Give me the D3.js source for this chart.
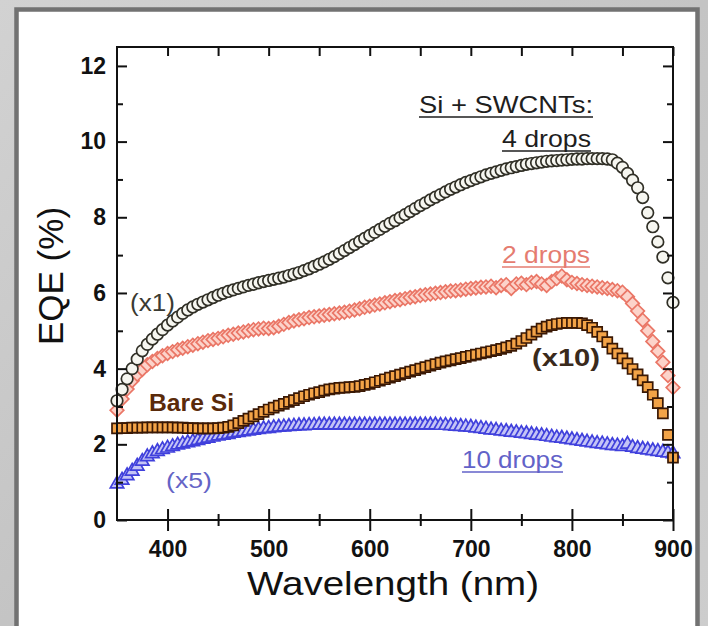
<!DOCTYPE html>
<html>
<head>
<meta charset="utf-8">
<script src="https://cdn.jsdelivr.net/npm/d3@7"></script>
<style>
  html, body { margin: 0; padding: 0; background: #c8c8c8; }
  svg { display: block; }
  text { font-family: "Liberation Sans", Arial, sans-serif; }
</style>
</head>
<body>
<div id="chart"></div>
<script>
// EQE spectra: Si + SWCNTs (2, 4, 10 drops) and bare Si
const width = 708;
const height = 626;

// sampling grid (nm)
const wavelengths = [
  350, 355, 360, 365, 370, 375, 380, 385, 390, 395,
  400, 405, 410, 415, 420, 425, 430, 435, 440, 445,
  450, 455, 460, 465, 470, 475, 480, 485, 490, 495,
  500, 505, 510, 515, 520, 525, 530, 535, 540, 545,
  550, 555, 560, 565, 570, 575, 580, 585, 590, 595,
  600, 605, 610, 615, 620, 625, 630, 635, 640, 645,
  650, 655, 660, 665, 670, 675, 680, 685, 690, 695,
  700, 705, 710, 715, 720, 725, 730, 735, 740, 745,
  750, 755, 760, 765, 770, 775, 780, 785, 790, 795,
  800, 805, 810, 815, 820, 825, 830, 835, 840, 845,
  850, 855, 860, 865, 870, 875, 880, 885, 890, 895,
  900
];

// 4 drops (x1), EQE %
const drops4 = [
  3.15, 3.45, 3.73, 4.00, 4.25, 4.47, 4.64, 4.78, 4.91, 5.03,
  5.15, 5.26, 5.36, 5.46, 5.55, 5.63, 5.70, 5.76, 5.82, 5.88,
  5.94, 5.99, 6.04, 6.08, 6.12, 6.16, 6.20, 6.23, 6.27, 6.30,
  6.33, 6.36, 6.39, 6.42, 6.46, 6.50, 6.54, 6.59, 6.64, 6.70,
  6.76, 6.82, 6.89, 6.96, 7.04, 7.12, 7.20, 7.28, 7.36, 7.44,
  7.52, 7.60, 7.68, 7.76, 7.84, 7.91, 7.99, 8.07, 8.15, 8.23,
  8.31, 8.38, 8.46, 8.53, 8.60, 8.67, 8.74, 8.80, 8.86, 8.92,
  8.97, 9.02, 9.07, 9.12, 9.16, 9.20, 9.24, 9.28, 9.31, 9.34,
  9.37, 9.40, 9.42, 9.44, 9.46, 9.48, 9.49, 9.50, 9.51, 9.52,
  9.53, 9.54, 9.54, 9.55, 9.55, 9.55, 9.55, 9.54, 9.52, 9.43,
  9.32, 9.16, 8.98, 8.78, 8.52, 8.12, 7.75, 7.35, 6.95, 6.40,
  5.75
];

// 2 drops
const drops2 = [
  2.90, 3.20, 3.46, 3.68, 3.85, 3.98, 4.10, 4.19, 4.27, 4.34,
  4.40, 4.45, 4.50, 4.54, 4.58, 4.62, 4.66, 4.70, 4.74, 4.77,
  4.80, 4.84, 4.88, 4.91, 4.94, 4.97, 5.00, 5.03, 5.05, 5.07,
  5.06, 5.08, 5.12, 5.17, 5.22, 5.26, 5.29, 5.32, 5.35, 5.37,
  5.39, 5.41, 5.43, 5.45, 5.47, 5.49, 5.52, 5.55, 5.58, 5.62,
  5.65, 5.68, 5.71, 5.74, 5.77, 5.80, 5.82, 5.85, 5.88, 5.90,
  5.93, 5.95, 5.97, 5.99, 6.01, 6.03, 6.05, 6.06, 6.08, 6.10,
  6.12, 6.13, 6.15, 6.16, 6.18, 6.14, 6.20, 6.22, 6.12, 6.24,
  6.26, 6.22, 6.28, 6.30, 6.24, 6.20, 6.30, 6.38, 6.45, 6.35,
  6.28, 6.25, 6.22, 6.20, 6.18, 6.16, 6.14, 6.12, 6.09, 6.06,
  6.02, 5.90, 5.72, 5.52, 5.28, 5.00, 4.72, 4.46, 4.17, 3.82,
  3.50
];

// bare Si (x10)
const bareSi = [
  2.42, 2.43, 2.43, 2.44, 2.44, 2.44, 2.45, 2.45, 2.45, 2.45,
  2.45, 2.45, 2.44, 2.44, 2.43, 2.43, 2.42, 2.42, 2.42, 2.42,
  2.43, 2.44, 2.46, 2.50, 2.56, 2.62, 2.68, 2.74, 2.80, 2.86,
  2.92, 2.97, 3.02, 3.07, 3.12, 3.17, 3.22, 3.27, 3.31, 3.35,
  3.38, 3.42, 3.45, 3.47, 3.49, 3.50, 3.51, 3.52, 3.54, 3.57,
  3.60, 3.64, 3.68, 3.72, 3.76, 3.80, 3.84, 3.88, 3.92, 3.96,
  4.00, 4.04, 4.08, 4.12, 4.16, 4.19, 4.22, 4.25, 4.28, 4.31,
  4.34, 4.37, 4.40, 4.43, 4.46, 4.49, 4.52, 4.56, 4.60, 4.66,
  4.73, 4.81, 4.90, 4.98, 5.06, 5.11, 5.15, 5.18, 5.20, 5.21,
  5.21, 5.21, 5.20, 5.15, 5.08, 4.97, 4.85, 4.70, 4.53, 4.40,
  4.27, 4.14, 3.99, 3.85, 3.69, 3.51, 3.31, 3.09, 2.82, 2.25,
  1.65
];

// 10 drops (x5)
const drops10 = [
  0.95, 1.05, 1.17, 1.29, 1.42, 1.55, 1.67, 1.75, 1.81, 1.86,
  1.90, 1.94, 1.98, 2.01, 2.04, 2.07, 2.10, 2.13, 2.16, 2.19,
  2.22, 2.24, 2.26, 2.29, 2.31, 2.33, 2.35, 2.37, 2.39, 2.41,
  2.42, 2.44, 2.45, 2.46, 2.47, 2.48, 2.49, 2.49, 2.50, 2.50,
  2.51, 2.51, 2.51, 2.51, 2.51, 2.51, 2.51, 2.51, 2.51, 2.51,
  2.51, 2.51, 2.51, 2.51, 2.51, 2.51, 2.51, 2.51, 2.51, 2.51,
  2.51, 2.51, 2.51, 2.51, 2.50, 2.50, 2.49, 2.48, 2.47, 2.46,
  2.45, 2.43, 2.42, 2.40, 2.38, 2.37, 2.35, 2.34, 2.32, 2.31,
  2.29, 2.28, 2.26, 2.24, 2.23, 2.21, 2.19, 2.17, 2.16, 2.14,
  2.12, 2.10, 2.08, 2.06, 2.04, 2.02, 2.01, 1.99, 1.97, 1.96,
  1.94, 2.00, 1.92, 1.89, 1.87, 1.85, 1.83, 1.81, 1.79, 1.77,
  1.75
];

const xMajor = [400, 500, 600, 700, 800, 900];
const xMinor = [450, 550, 650, 750, 850];
const yMajor = [0, 2, 4, 6, 8, 10, 12];
const yMinor = [1, 3, 5, 7, 9, 11];

const svg = d3.select("#chart")
  .append("svg")
  .attr("width", width)
  .attr("height", height);

// grey photo backdrop + white panel
const grad = svg.append("defs").append("linearGradient")
  .attr("id", "bg").attr("x1", 0).attr("y1", 0).attr("x2", 1).attr("y2", 1);
grad.append("stop").attr("offset", "0%").attr("stop-color", "#d2d2d2");
grad.append("stop").attr("offset", "50%").attr("stop-color", "#c4c4c4");
grad.append("stop").attr("offset", "100%").attr("stop-color", "#cdcdcd");
svg.append("rect").attr("width", width).attr("height", height).attr("fill", "url(#bg)");
svg.append("rect")
  .attr("x", 16.5).attr("y", 9.5)
  .attr("width", 681).attr("height", 660)
  .attr("fill", "#fff")
  .attr("stroke", "#727272")
  .attr("stroke-width", 4.5);

const x = d3.scaleLinear().domain([350, 900]).range([117, 673]);
const y = d3.scaleLinear().domain([0, 12.5]).range([520, 47]);

// markers: each series drawn left-to-right so the opaque fills give the hatched look
const series = [
  { values: drops10, type: d3.symbolTriangle, size: 78, rot: 0, stroke: "#4040dc", fill: "#c4c4f6" },
  { values: drops2, type: d3.symbolSquare, size: 92, rot: 45, stroke: "#ea7666", fill: "#fcd3ca" },
  { values: bareSi, type: d3.symbolSquare, size: 100, rot: 0, stroke: "#3a1804", fill: "#f3a347" },
  { values: drops4, type: d3.symbolCircle, size: 105, rot: 0, stroke: "#302f26", fill: "#f6f6f0" }
];

series.forEach(s => {
  const sym = d3.symbol().type(s.type).size(s.size);
  svg.append("g")
    .selectAll("path")
    .data(wavelengths.map((w, i) => [w, s.values[i]]))
    .join("path")
    .attr("transform", d => `translate(${x(d[0])},${y(d[1])}) rotate(${s.rot})`)
    .attr("d", sym)
    .attr("fill", s.fill)
    .attr("stroke", s.stroke)
    .attr("stroke-width", 1.7);
});

// axes
function styleAxis(g) {
  g.select(".domain").remove();
  g.selectAll(".tick line").attr("stroke", "#111").attr("stroke-width", 2);
  g.selectAll("text")
    .attr("fill", "#111")
    .style("font-family", "'Liberation Sans', Arial, sans-serif")
    .style("font-weight", "bold")
    .style("font-size", "23px");
}

// bottom: ticks cross the axis line
svg.append("g").attr("transform", `translate(0,${y(0)})`)
  .call(d3.axisBottom(x).tickValues(xMajor).tickSize(11).tickPadding(10).tickFormat(d3.format("d")))
  .call(styleAxis);
svg.append("g").attr("transform", `translate(0,${y(0)})`)
  .call(d3.axisTop(x).tickValues(xMajor).tickSize(11).tickFormat(""))
  .call(styleAxis);
svg.append("g").attr("transform", `translate(0,${y(0)})`)
  .call(d3.axisBottom(x).tickValues(xMinor).tickSize(6).tickFormat(""))
  .call(styleAxis);
svg.append("g").attr("transform", `translate(0,${y(0)})`)
  .call(d3.axisTop(x).tickValues(xMinor).tickSize(6).tickFormat(""))
  .call(styleAxis);

// top: inward
svg.append("g").attr("transform", `translate(0,${y(12.5)})`)
  .call(d3.axisBottom(x).tickValues(xMajor.concat(xMinor)).tickSize(9).tickFormat(""))
  .call(styleAxis);

// left: inward ticks, labels outside
svg.append("g").attr("transform", `translate(${x(350)},0)`)
  .call(d3.axisLeft(y).tickValues(yMajor).tickSize(-10).tickPadding(11).tickFormat(d3.format("d")))
  .call(styleAxis);
svg.append("g").attr("transform", `translate(${x(350)},0)`)
  .call(d3.axisLeft(y).tickValues(yMinor).tickSize(-6).tickFormat(""))
  .call(styleAxis);

// right: inward
svg.append("g").attr("transform", `translate(${x(900)},0)`)
  .call(d3.axisLeft(y).tickValues(yMajor).tickSize(10).tickFormat(""))
  .call(styleAxis);
svg.append("g").attr("transform", `translate(${x(900)},0)`)
  .call(d3.axisLeft(y).tickValues(yMinor).tickSize(6).tickFormat(""))
  .call(styleAxis);

// frame
svg.append("rect")
  .attr("x", x(350)).attr("y", y(12.5))
  .attr("width", x(900) - x(350)).attr("height", y(0) - y(12.5))
  .attr("fill", "none")
  .attr("stroke", "#111")
  .attr("stroke-width", 2);

// axis titles
svg.append("text")
  .attr("x", 393).attr("y", 595)
  .attr("text-anchor", "middle")
  .attr("textLength", 292).attr("lengthAdjust", "spacingAndGlyphs")
  .style("font-size", "33px")
  .attr("fill", "#111")
  .text("Wavelength (nm)");

svg.append("text")
  .attr("transform", "translate(63,276) rotate(-90)")
  .attr("text-anchor", "middle")
  .style("font-size", "35px")
  .attr("fill", "#111")
  .text("EQE (%)");

// curve labels
const notes = [
  { text: "Si + SWCNTs:", x: 419, y: 113, len: 174, size: 24, bold: false, color: "#1e1e1e", line: true },
  { text: "4 drops", x: 502, y: 147, len: 89, size: 24, bold: false, color: "#1e1e1e", line: true },
  { text: "2 drops", x: 502, y: 263, len: 88, size: 24, bold: false, color: "#e57c70", line: true },
  { text: "10 drops", x: 462, y: 468, len: 101, size: 24, bold: false, color: "#6262c8", line: true },
  { text: "(x1)", x: 130, y: 311, len: 45, size: 23, bold: false, color: "#3a3a32", line: false },
  { text: "Bare Si", x: 149, y: 411, len: 85, size: 23, bold: true, color: "#5a2a0a", line: false },
  { text: "(x10)", x: 532, y: 366, len: 68, size: 23, bold: true, color: "#3a2a1c", line: false },
  { text: "(x5)", x: 166, y: 488, len: 46, size: 22, bold: false, color: "#6464c6", line: false }
];

notes.forEach(n => {
  svg.append("text")
    .attr("x", n.x).attr("y", n.y)
    .attr("textLength", n.len).attr("lengthAdjust", "spacingAndGlyphs")
    .style("font-size", n.size + "px")
    .style("font-weight", n.bold ? "bold" : "normal")
    .attr("fill", n.color)
    .text(n.text);
  if (n.line) {
    svg.append("line")
      .attr("x1", n.x).attr("x2", n.x + n.len)
      .attr("y1", n.y + 4).attr("y2", n.y + 4)
      .attr("stroke", n.color)
      .attr("stroke-width", 1.6);
  }
});
</script>
</body>
</html>
